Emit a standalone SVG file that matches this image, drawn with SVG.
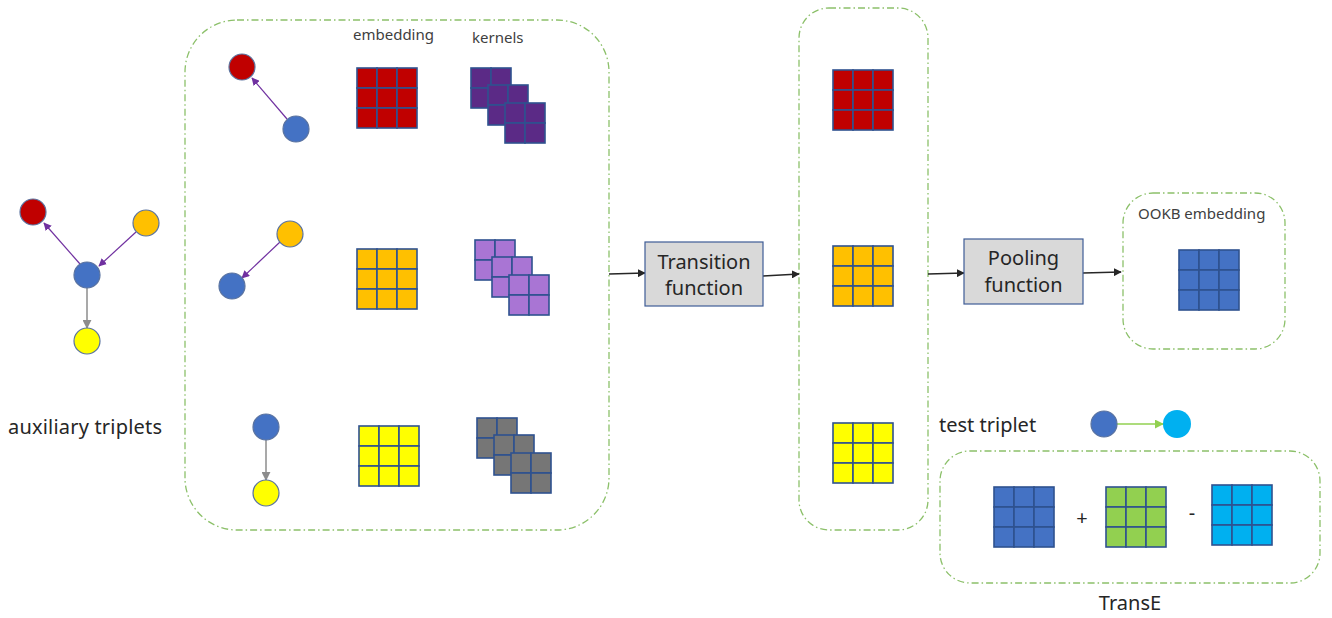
<svg xmlns="http://www.w3.org/2000/svg" xmlns:xlink="http://www.w3.org/1999/xlink" width="1332" height="618" viewBox="0 0 1332 618">
<style>
.cont{fill:none;stroke:#8CC06A;stroke-width:1.3;stroke-dasharray:7 3 1.5 3}
.node{stroke:#5A73A0;stroke-width:1.2}
.box{fill:#D9D9D9;stroke:#3E5C96;stroke-width:1.2}
.t{font-family:"Noto Sans","Open Sans",sans-serif;fill:#262626}
.s{font-size:15px;fill:#404040}
.l{font-size:20px}
.cell{stroke:#2F528F;stroke-width:1.6}
.pa{stroke:#7030A0;stroke-width:1.2;fill:none}
.ga{stroke:#8C8C8C;stroke-width:1.5;fill:none}
.ka{stroke:#262626;stroke-width:1.3;fill:none}
.gr{stroke:#92D050;stroke-width:1.3;fill:none}
</style>
<defs>
<g id="g3">
<rect class="cell" x="0" y="0" width="20" height="20"/><rect class="cell" x="20" y="0" width="20" height="20"/><rect class="cell" x="40" y="0" width="20" height="20"/>
<rect class="cell" x="0" y="20" width="20" height="20"/><rect class="cell" x="20" y="20" width="20" height="20"/><rect class="cell" x="40" y="20" width="20" height="20"/>
<rect class="cell" x="0" y="40" width="20" height="20"/><rect class="cell" x="20" y="40" width="20" height="20"/><rect class="cell" x="40" y="40" width="20" height="20"/>
</g>
<g id="g2">
<rect class="cell" x="0" y="0" width="20" height="20"/><rect class="cell" x="20" y="0" width="20" height="20"/>
<rect class="cell" x="0" y="20" width="20" height="20"/><rect class="cell" x="20" y="20" width="20" height="20"/>
</g>
<g id="ker">
<use xlink:href="#g2" x="0" y="0"/><use xlink:href="#g2" x="17" y="17"/><use xlink:href="#g2" x="34" y="35"/>
</g>
<marker id="mp" viewBox="0 0 10 10" refX="9" refY="5" markerWidth="8" markerHeight="8" markerUnits="userSpaceOnUse" orient="auto"><path d="M0,0 L10,5 L0,10 z" fill="#7030A0"/></marker>
<marker id="mg" viewBox="0 0 10 10" refX="9" refY="5" markerWidth="9" markerHeight="9" markerUnits="userSpaceOnUse" orient="auto"><path d="M0,0 L10,5 L0,10 z" fill="#8C8C8C"/></marker>
<marker id="mk" viewBox="0 0 10 10" refX="9" refY="5" markerWidth="8" markerHeight="8" markerUnits="userSpaceOnUse" orient="auto"><path d="M0,0 L10,5 L0,10 z" fill="#262626"/></marker>
<marker id="mgr" viewBox="0 0 10 10" refX="9" refY="5" markerWidth="9" markerHeight="9" markerUnits="userSpaceOnUse" orient="auto"><path d="M0,0 L10,5 L0,10 z" fill="#92D050"/></marker>
</defs>
<rect width="1332" height="618" fill="#FFFFFF"/>

<g id="containers">
<rect class="cont" x="185" y="20" width="424" height="510" rx="52"/>
<rect class="cont" x="799" y="8" width="129" height="522" rx="30"/>
<rect class="cont" x="1123" y="193" width="162" height="156" rx="30"/>
<rect class="cont" x="940" y="451" width="380" height="132" rx="30"/>
</g>

<g id="connectors">
<line class="pa" x1="80" y1="264" x2="44" y2="223" marker-end="url(#mp)"/>
<line class="pa" x1="136" y1="232" x2="99" y2="266" marker-end="url(#mp)"/>
<line class="ga" x1="87" y1="288" x2="87" y2="328" marker-end="url(#mg)"/>
<line class="pa" x1="287" y1="119" x2="252" y2="78" marker-end="url(#mp)"/>
<line class="pa" x1="280" y1="242" x2="242" y2="278" marker-end="url(#mp)"/>
<line class="ga" x1="266" y1="440" x2="266" y2="480" marker-end="url(#mg)"/>
<line class="ka" x1="609" y1="274" x2="645" y2="273" marker-end="url(#mk)"/>
<line class="ka" x1="763" y1="276" x2="799" y2="274" marker-end="url(#mk)"/>
<line class="ka" x1="928" y1="274" x2="964" y2="273" marker-end="url(#mk)"/>
<line class="ka" x1="1083" y1="273" x2="1121" y2="272" marker-end="url(#mk)"/>
<line class="gr" x1="1117" y1="424" x2="1163" y2="424" marker-end="url(#mgr)"/>
</g>

<g id="aux-graph">
<circle class="node" cx="33" cy="212" r="13" fill="#C00000"/>
<circle class="node" cx="146" cy="223" r="13" fill="#FFC000"/>
<circle class="node" cx="87" cy="275" r="13" fill="#4472C4"/>
<circle class="node" cx="87" cy="341" r="13" fill="#FFFF00"/>
<text class="t l" x="8" y="434" textLength="154">auxiliary triplets</text>
</g>

<g id="row1">
<circle class="node" cx="242" cy="67" r="13" fill="#C00000"/>
<circle class="node" cx="296" cy="129" r="13" fill="#4472C4"/>
<use xlink:href="#g3" x="357" y="68" fill="#C00000"/>
<use xlink:href="#ker" x="471" y="68" fill="#5B2A86"/>
</g>
<g id="row2">
<circle class="node" cx="290" cy="234" r="13" fill="#FFC000"/>
<circle class="node" cx="232" cy="286" r="13" fill="#4472C4"/>
<use xlink:href="#g3" x="357" y="249" fill="#FFC000"/>
<use xlink:href="#ker" x="475" y="240" fill="#A975D4"/>
</g>
<g id="row3">
<circle class="node" cx="266" cy="427" r="13" fill="#4472C4"/>
<circle class="node" cx="266" cy="493" r="13" fill="#FFFF00"/>
<use xlink:href="#g3" x="359" y="426" fill="#FFFF00"/>
<use xlink:href="#ker" x="477" y="418" fill="#767676"/>
</g>
<g id="labels">
<text class="t s" x="353" y="40">embedding</text>
<text class="t s" x="472" y="43">kernels</text>
</g>

<g id="transition">
<rect class="box" x="645" y="242" width="118" height="64"/>
<text class="t l" x="704" y="269" text-anchor="middle">Transition</text>
<text class="t l" x="704" y="295" text-anchor="middle">function</text>
</g>

<g id="mid-embeddings">
<use xlink:href="#g3" x="833" y="70" fill="#C00000"/>
<use xlink:href="#g3" x="833" y="246" fill="#FFC000"/>
<use xlink:href="#g3" x="833" y="423" fill="#FFFF00"/>
</g>

<g id="pooling">
<rect class="box" x="964" y="239" width="119" height="65"/>
<text class="t l" x="1023.500" y="265" text-anchor="middle">Pooling</text>
<text class="t l" x="1023.500" y="292" text-anchor="middle">function</text>
</g>

<g id="ookb">
<text class="t s" x="1138" y="219">OOKB embedding</text>
<use xlink:href="#g3" x="1179" y="250" fill="#4472C4"/>
</g>

<g id="test-triplet">
<text class="t l" x="939" y="432">test triplet</text>
<circle class="node" cx="1104" cy="424" r="13" fill="#4472C4"/>
<circle cx="1177" cy="424" r="14" fill="#00B0F0"/>
</g>

<g id="transe">
<use xlink:href="#g3" x="994" y="487" fill="#4472C4"/>
<text class="t l" x="1082" y="525" text-anchor="middle" fill="#404040">+</text>
<use xlink:href="#g3" x="1106" y="487" fill="#92D050"/>
<text class="t l" x="1192" y="520" text-anchor="middle" fill="#404040">-</text>
<use xlink:href="#g3" x="1212" y="485" fill="#00B0F0"/>
<text class="t l" x="1130" y="610" text-anchor="middle">TransE</text>
</g>
</svg>
